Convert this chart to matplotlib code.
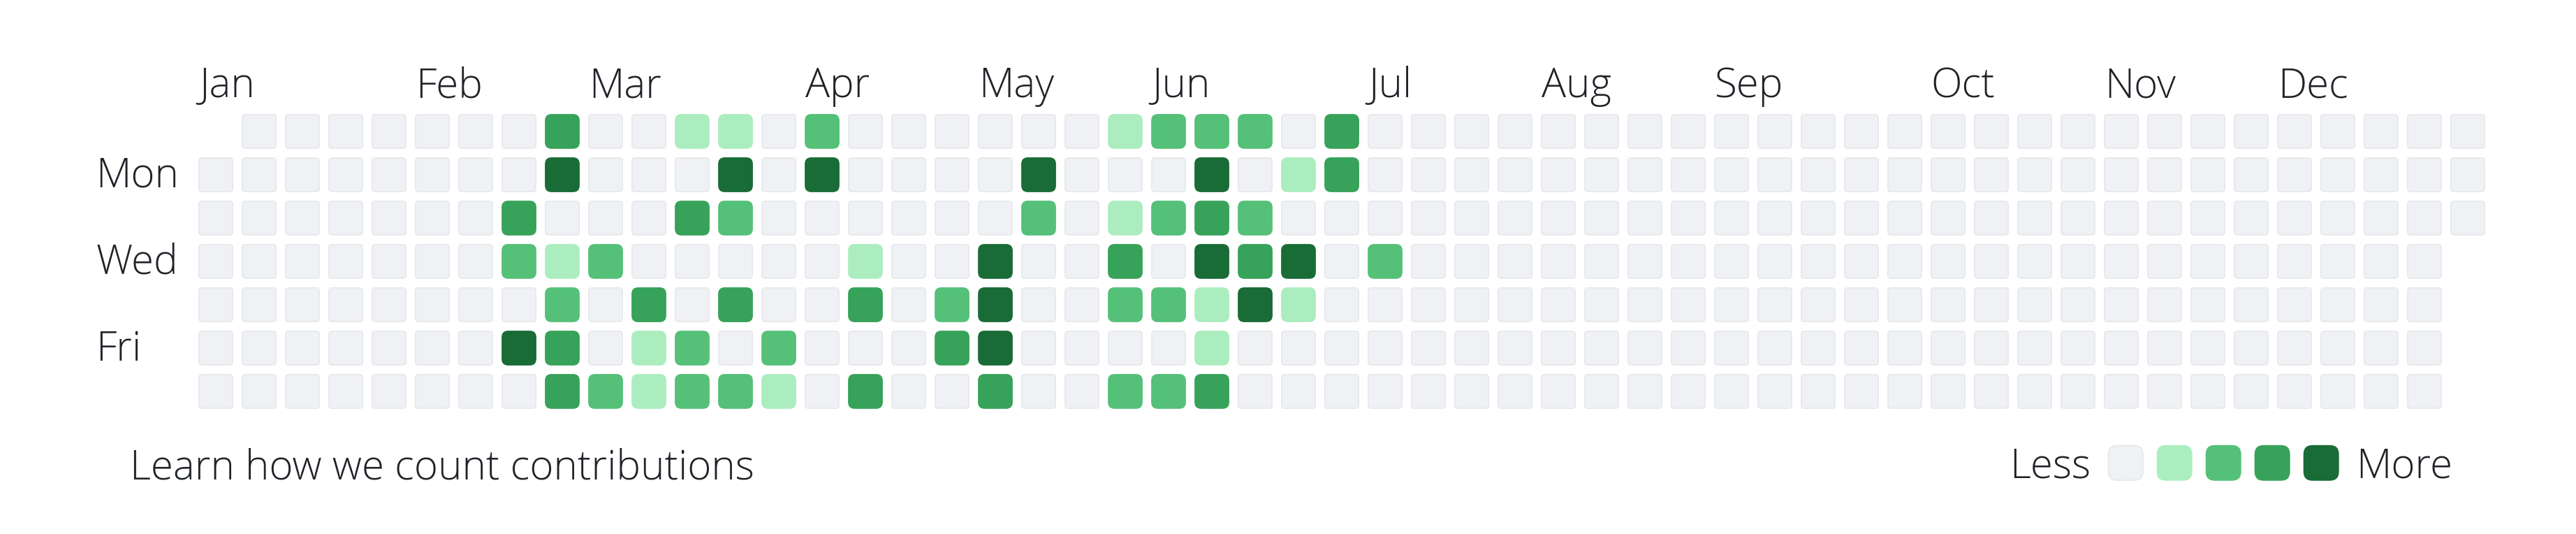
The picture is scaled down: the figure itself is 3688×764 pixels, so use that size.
#!/usr/bin/env python3
"""GitHub style contribution calendar for 2024."""

import matplotlib
matplotlib.use("Agg")
import matplotlib.pyplot as plt
from matplotlib.patches import FancyBboxPatch

# contribution level per week column (0..52), one list per weekday, None = no day
sun = [None, 0, 0, 0, 0, 0, 0, 0, 3, 0, 0, 1, 1, 0, 2, 0, 0, 0, 0, 0, 0, 1, 2, 2, 2, 0, 3] + [0] * 26
mon = [0, 0, 0, 0, 0, 0, 0, 0, 4, 0, 0, 0, 4, 0, 4, 0, 0, 0, 0, 4, 0, 0, 0, 4, 0, 1, 3] + [0] * 26
tue = [0, 0, 0, 0, 0, 0, 0, 3, 0, 0, 0, 3, 2, 0, 0, 0, 0, 0, 0, 2, 0, 1, 2, 3, 2] + [0] * 28
wed = [0, 0, 0, 0, 0, 0, 0, 2, 1, 2, 0, 0, 0, 0, 0, 1, 0, 0, 4, 0, 0, 3, 0, 4, 3, 4, 0, 2] + [0] * 24 + [None]
thu = [0, 0, 0, 0, 0, 0, 0, 0, 2, 0, 3, 0, 3, 0, 0, 3, 0, 2, 4, 0, 0, 2, 2, 1, 4, 1] + [0] * 26 + [None]
fri = [0, 0, 0, 0, 0, 0, 0, 4, 3, 0, 1, 2, 0, 2, 0, 0, 0, 3, 4, 0, 0, 0, 0, 1] + [0] * 28 + [None]
sat = [0, 0, 0, 0, 0, 0, 0, 0, 3, 2, 1, 2, 2, 1, 0, 3, 0, 0, 3, 0, 0, 2, 2, 3] + [0] * 28 + [None]
weeks = [sun, mon, tue, wed, thu, fri, sat]

months = ["Jan", "Feb", "Mar", "Apr", "May", "Jun", "Jul", "Aug", "Sep", "Oct", "Nov", "Dec"]
month_cols = [0, 5, 9, 14, 18, 22, 27, 31, 35, 40, 44, 48]
day_labels = ["Mon", "Wed", "Fri"]
day_rows = [1, 3, 5]

level_colors = ["#eff1f4", "#acedbf", "#55c078", "#37a259", "#196c36"]
text_color = "#1f2328"

plt.rcParams["font.family"] = ["Open Sans", "DejaVu Sans"]
plt.rcParams["font.weight"] = "light"
FS = 42

W, H = 3688, 764
PITCH = 62.0      # px per cell step
X0, Y0 = 309, 188  # px centre of first cell
CELL = 0.78

fig = plt.figure(figsize=(W / 100, H / 100), dpi=100)
ax = fig.add_axes([0, 0, 1, 1])
ax.set_xlim(-X0 / PITCH, (W - X0) / PITCH)
ax.set_ylim((H - Y0) / PITCH, -Y0 / PITCH)
ax.axis("off")


def cell(x, y, level, size=CELL, rnd=None):
    if rnd is None:
        rnd = 0.07 if level == 0 else 0.14
    edge = "#e3e6ea" if level == 0 else level_colors[level]
    p = FancyBboxPatch((x - size / 2, y - size / 2), size, size,
                       boxstyle="round,pad=0,rounding_size=%.3f" % rnd,
                       facecolor=level_colors[level], edgecolor=edge, linewidth=1.0)
    ax.add_patch(p)


for r, row in enumerate(weeks):
    for c, lvl in enumerate(row):
        if lvl is None:
            continue
        cell(c, r, lvl)

for name, col in zip(months, month_cols):
    ax.text(col - 0.39, -0.79, name, fontsize=FS, color=text_color,
            ha="left", va="baseline")

for name, r in zip(day_labels, day_rows):
    ax.text(-2.77, r + 0.29, name, fontsize=FS, color=text_color,
            ha="left", va="baseline")

ax.text(-1.98, 8.02, "Learn how we count contributions", fontsize=FS,
        color=text_color, ha="left", va="baseline")

# legend
lx, lstep, ly = 44.10, 1.129, 7.65
ax.text(lx - 0.5 - 0.3, 8.0, "Less", fontsize=FS, color=text_color,
        ha="right", va="baseline")
for i in range(len(level_colors)):
    cell(lx + i * lstep, ly, i, size=0.8, rnd=0.2)
ax.text(lx + 4 * lstep + 0.5 + 0.3, 8.0, "More", fontsize=FS, color=text_color,
        ha="left", va="baseline")

fig.savefig("out.png", dpi=100, facecolor="white")
